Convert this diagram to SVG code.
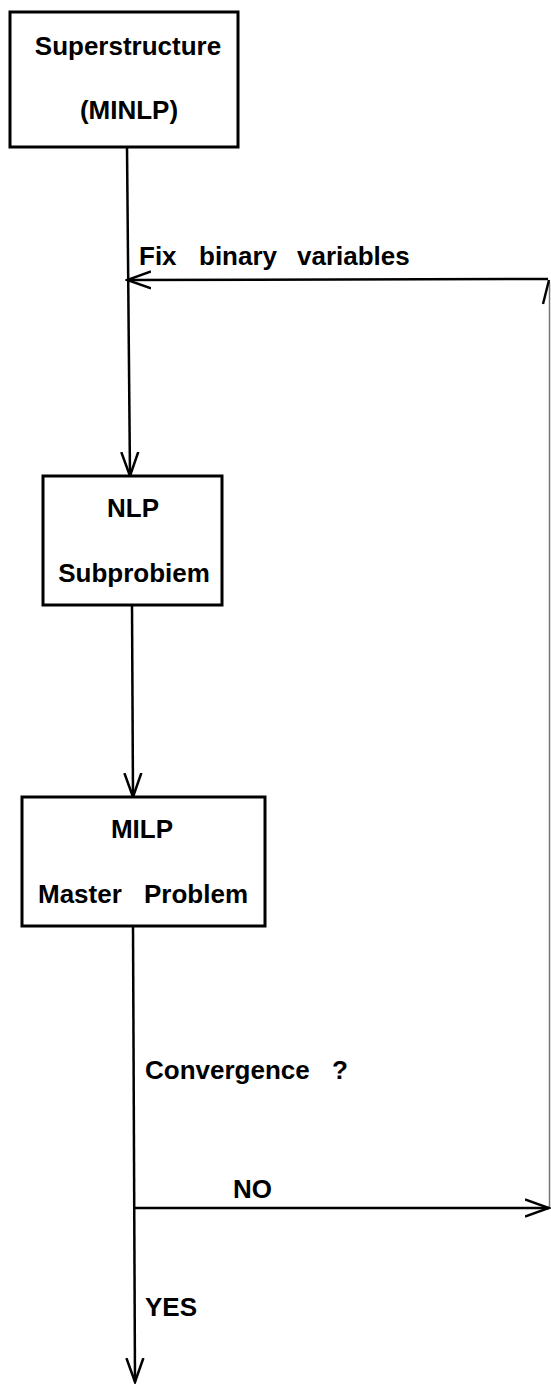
<svg xmlns="http://www.w3.org/2000/svg" width="551" height="1387" viewBox="0 0 551 1387">
<defs>
<style>
.box{fill:#fff;stroke:#000;stroke-width:3}
.t{font-family:"Liberation Sans",Arial,sans-serif;font-weight:bold;font-size:26px;fill:#000}
.c{text-anchor:middle}
.ln{stroke:#000;stroke-width:2.5;fill:none}
.thin{stroke:#777;stroke-width:1.5;fill:none}
</style>
<marker id="ah" viewBox="0 0 26 20" refX="24" refY="10" markerWidth="26" markerHeight="20" markerUnits="userSpaceOnUse" orient="auto">
<path d="M0,1.5 L24,10 L0,18.5" fill="none" stroke="#000" stroke-width="2.5"/>
</marker>
</defs>
<g id="connectors">
<line class="ln" x1="127" y1="147" x2="130" y2="476" marker-end="url(#ah)"/>
<line class="ln" x1="548" y1="279" x2="127" y2="280" marker-end="url(#ah)"/>
<line class="thin" x1="549.5" y1="1208" x2="549.5" y2="282"/>
<line class="ln" x1="543" y1="304" x2="549" y2="280"/>
<line class="ln" x1="132" y1="605" x2="133" y2="797" marker-end="url(#ah)"/>
<line class="ln" x1="133" y1="926" x2="135" y2="1382" marker-end="url(#ah)"/>
<line class="ln" x1="135" y1="1208" x2="549" y2="1208" marker-end="url(#ah)"/>
</g>
<g id="superstructure">
<rect class="box" x="10" y="12" width="228" height="135"/>
<text class="t c" x="128" y="55">Superstructure</text>
<text class="t c" x="129" y="119">(MINLP)</text>
</g>
<g id="nlp">
<rect class="box" x="43" y="476" width="179" height="129"/>
<text class="t c" x="133" y="517">NLP</text>
<text class="t c" x="134" y="582">Subprobiem</text>
</g>
<g id="milp">
<rect class="box" x="22" y="797" width="243" height="129"/>
<text class="t c" x="142" y="838">MILP</text>
<text class="t" y="903"><tspan x="38">Master</tspan><tspan x="144">Problem</tspan></text>
</g>
<g id="labels">
<text class="t" y="265"><tspan x="139">Fix</tspan><tspan x="199">binary</tspan><tspan x="297">variables</tspan></text>
<text class="t" y="1079"><tspan x="145">Convergence</tspan><tspan x="332">?</tspan></text>
<text class="t" x="233" y="1198">NO</text>
<text class="t" x="145" y="1316">YES</text>
</g>
</svg>
